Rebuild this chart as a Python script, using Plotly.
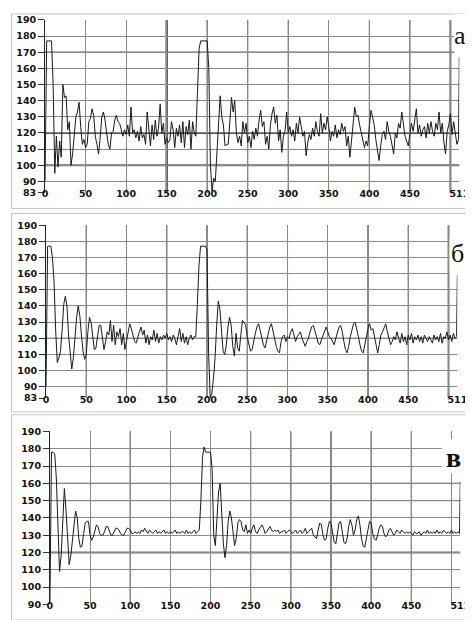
import plotly.graph_objects as go

# отсчёты (шаг 2) + последний отсчёт 511
x_idx = list(range(0, 512, 2)) + [511]

sig_a = [
    90, 177, 177, 177, 177, 150, 95, 118, 99, 115,
    105, 150, 142, 143, 122, 127, 100, 107, 120, 130,
    133, 139, 124, 113, 116, 111, 113, 127, 129, 135,
    131, 118, 113, 107, 117, 130, 133, 128, 120, 113,
    110, 120, 121, 128, 131, 127, 126, 121, 118, 122,
    119, 125, 118, 136, 120, 122, 117, 121, 115, 124,
    117, 119, 113, 133, 120, 112, 125, 116, 128, 118,
    123, 138, 120, 126, 113, 117, 114, 116, 127, 122,
    111, 123, 118, 125, 114, 127, 111, 124, 119, 128,
    110, 127, 120, 118, 145, 172, 177, 177, 177, 177,
    177, 160, 100, 84, 92, 90, 110, 130, 143, 130,
    125, 112, 113, 113, 125, 142, 133, 140, 120, 114,
    118, 112, 127, 120, 126, 114, 118, 111, 121, 116,
    123, 118, 128, 134, 124, 127, 113, 118, 110, 125,
    132, 136, 126, 131, 115, 122, 108, 118, 121, 133,
    120, 124, 118, 122, 115, 126, 120, 130, 124, 118,
    121, 106, 114, 119, 116, 123, 118, 127, 121, 118,
    132, 120, 126, 122, 130, 124, 115, 121, 118, 125,
    117, 122, 119, 126, 121, 124, 112, 118, 105, 117,
    128, 136, 130, 131, 125, 120, 116, 111, 115, 112,
    124, 134, 130, 125, 116, 110, 103, 112, 119, 121,
    116, 127, 121, 118, 112, 107, 120, 117, 126, 123,
    133, 125, 118, 115, 112, 119, 126, 121, 128, 135,
    120, 125, 118, 122, 124, 117, 126, 120, 127, 121,
    118, 126, 122, 133, 120, 126, 114, 107, 121, 125,
    132, 119, 127, 121, 113, 116,
    167,
]

sig_b = [
    90, 177, 177, 177, 170, 155, 125, 105, 108, 112,
    125, 141, 146, 140, 122, 110, 101, 108, 122, 133,
    140, 134, 122, 112, 107, 110, 124, 133, 130, 121,
    113, 114, 121, 128, 128, 120, 113, 118, 124, 122,
    131, 118, 128, 116, 124, 121, 126, 116, 123, 113,
    118, 124, 129, 126, 121, 118, 117, 121, 124, 127,
    122, 125, 117, 122, 116, 121, 119, 125, 118, 123,
    117, 121, 119, 122, 120, 123, 119, 121, 118, 122,
    120, 116, 122, 126, 118, 123, 117, 121, 116, 120,
    122, 119, 121, 121, 141, 165, 177, 177, 177, 177,
    175, 110, 83, 86, 95, 108, 128, 143, 138, 125,
    112, 110, 116, 127, 133, 128, 115, 109, 123, 114,
    112, 122, 131, 130, 128, 121, 116, 112, 113, 119,
    123, 127, 129, 125, 120, 116, 114, 118, 122, 127,
    129, 124, 120, 115, 112, 111, 118, 121, 122, 118,
    121, 120, 124, 126, 122, 118, 121, 123, 124, 120,
    117, 115, 118, 120, 124, 127, 128, 125, 121, 117,
    116, 119, 122, 125, 127, 124, 121, 120, 118, 116,
    120, 124, 127, 128, 124, 118, 113, 111, 115, 121,
    126, 129, 130, 126, 121, 116, 112, 111, 116, 122,
    126, 129, 125, 126, 121, 114, 111, 116, 122, 124,
    127, 129, 124, 119, 116, 118, 121, 119, 124, 120,
    117, 123, 118, 121, 116, 122, 119, 123, 117, 121,
    119, 122, 118, 121, 117, 122, 120, 118, 121, 119,
    117, 122, 119, 121, 118, 123, 117, 121, 120, 124,
    119, 122, 118, 123, 120, 121,
    159,
]

sig_c = [
    90, 178, 178, 177, 163, 133, 109, 118, 142, 157,
    145, 125, 113, 118, 128, 138, 144, 140, 128, 123,
    124, 131, 137, 138, 138, 130, 127, 129, 133, 136,
    135, 131, 130, 130, 132, 135, 135, 132, 130, 130,
    132, 134, 134, 133, 131, 130, 130, 132, 134, 134,
    133, 131, 131, 132, 131, 132, 131, 133, 132, 134,
    132, 131, 133, 132, 131, 132, 133, 131, 132, 131,
    132, 133, 131, 132, 131, 132, 131, 132, 133, 131,
    132, 131, 132, 132, 131, 133, 131, 132, 131, 132,
    133, 131, 132, 133, 150, 175, 181, 178, 178, 178,
    178, 168, 130, 124, 138, 155, 160, 142, 125, 117,
    124, 138, 144, 140, 130, 124, 128, 137, 139, 138,
    133, 132, 136, 131, 133, 131, 134, 136, 132, 131,
    133, 135, 136, 134, 131, 132, 134, 135, 133, 132,
    133, 132, 133, 131, 132, 132, 133, 131, 132, 133,
    132, 131, 132, 133, 131, 132, 133, 131, 132, 134,
    131, 132, 133, 134, 130, 129, 128, 133, 137, 136,
    130, 127, 128, 134, 138, 137, 130, 126, 125, 131,
    137, 138, 133, 126, 125, 128, 135, 139, 136, 130,
    133, 139, 141, 136, 128, 124, 123, 128, 135, 138,
    137, 131, 128, 127, 130, 134, 136, 135, 131, 129,
    130, 133, 134, 132, 130, 131, 133, 132, 131, 133,
    132, 131, 132, 131, 132, 131, 130, 132, 131, 131,
    132, 130, 131, 132, 131, 133, 131, 132, 131, 132,
    131, 133, 131, 132, 131, 133, 132, 131, 132, 131,
    133, 131, 132, 131, 132, 131,
    161,
]

x_ticks = [0, 50, 100, 150, 200, 250, 300, 350, 400, 450, 500, 511]
x_text = ["0", "50", "100", "150", "200", "250", "300", "350", "400", "450", "", "511"]
y_ticks_ab = [83, 90, 100, 110, 120, 130, 140, 150, 160, 170, 180, 190]
y_ticks_c = [90, 100, 110, 120, 130, 140, 150, 160, 170, 180, 190]
panel_names = ["а", "б", "в"]

W, H = 473, 620


def px_x(p):
    return p / W


def px_y(p):
    return 1 - p / H


# (x0, x1, y_top, y_bottom) в пикселях
panels = [
    (35, 461, 6, 182),
    (36, 459, 215, 391),
    (40, 462, 425, 601),
]
ranges = [[83, 190], [83, 190], [90, 190]]
ytick_sets = [y_ticks_ab, y_ticks_ab, y_ticks_c]
signals = [sig_a, sig_b, sig_c]

tick_font = dict(family="DejaVu Sans, Verdana", size=9.5, color="#111", weight="bold")

fig = go.Figure()
layout = {}
for i, (x0, x1, yt, yb) in enumerate(panels):
    n = "" if i == 0 else str(i + 1)
    fig.add_trace(go.Scatter(
        x=x_idx, y=signals[i], mode="lines",
        line=dict(color="#1a1a1a", width=1),
        xaxis="x" + n, yaxis="y" + n, showlegend=False,
    ))
    layout["xaxis" + n] = dict(
        domain=[px_x(x0), px_x(x1)], range=[0, 511], anchor="y" + n,
        tickvals=x_ticks, ticktext=x_text, tickfont=tick_font,
        showgrid=True, gridcolor="#8a8a8a", gridwidth=1,
        zeroline=False, showline=False, ticks="", ticklen=0,
        ticklabelstandoff=-6,
    )
    layout["yaxis" + n] = dict(
        domain=[px_y(yb), px_y(yt)], range=ranges[i], anchor="x" + n,
        tickvals=ytick_sets[i], tickfont=tick_font,
        showgrid=True, gridcolor="#8a8a8a", gridwidth=1,
        zeroline=False, showline=True, linecolor="#222", linewidth=1,
        ticks="outside", ticklen=6, tickcolor="#333",
    )

fig.update_layout(
    width=W, height=H, margin=dict(l=0, r=0, t=0, b=0),
    paper_bgcolor="white", plot_bgcolor="white", **layout,
)

# более тёмные линии сетки (как на скане)
dark_h = [
    (0, 170, "#000", 1), (0, 120, "#555", 2), (0, 100, "#666", 2),
    (1, 120, "#000", 1),
    (2, 160, "#000", 1), (2, 150, "#000", 1), (2, 120, "#777", 2),
]
dark_v = [
    (0, 150, "#111", 2), (0, 200, "#111", 1), (0, 250, "#333", 1), (0, 300, "#333", 1),
    (0, 400, "#333", 1), (0, 450, "#333", 1), (0, 500, "#666", 2),
    (1, 50, "#111", 1), (1, 100, "#111", 1), (1, 150, "#111", 1), (1, 200, "#111", 1),
    (1, 250, "#111", 1), (1, 300, "#111", 1), (1, 400, "#111", 1), (1, 450, "#111", 1),
    (1, 500, "#777", 2),
    (2, 100, "#111", 1), (2, 200, "#111", 1), (2, 250, "#111", 1), (2, 300, "#111", 1),
    (2, 350, "#111", 1), (2, 400, "#111", 1), (2, 450, "#222", 1), (2, 500, "#111", 1),
]
for p, v, c, w in dark_h:
    n = "" if p == 0 else str(p + 1)
    fig.add_shape(type="line", xref="x" + n + " domain", yref="y" + n,
                  x0=0, x1=1, y0=v, y1=v, line=dict(color=c, width=w), layer="below")
for p, v, c, w in dark_v:
    n = "" if p == 0 else str(p + 1)
    fig.add_shape(type="line", xref="x" + n, yref="y" + n + " domain",
                  x0=v, x1=v, y0=0, y1=1, line=dict(color=c, width=w), layer="below")

# рамки панелей
for (t, b) in [(0, 198), (203, 405), (408, 617)]:
    fig.add_shape(type="rect", xref="paper", yref="paper",
                  x0=px_x(0.5), x1=px_x(471.5), y0=px_y(b), y1=px_y(t),
                  line=dict(color="#c4c4c4", width=1), layer="below")

# подписи панелей на белом фоне
boxes = [(456, 472, 0, 43), (451, 470, 228, 265), (443, 470, 433, 468)]
label_pos = [(462, 22), (459, 244), (455, 452)]
label_size = [26, 26, 28]
for i, (bx0, bx1, by0, by1) in enumerate(boxes):
    fig.add_shape(type="rect", xref="paper", yref="paper",
                  x0=px_x(bx0), x1=px_x(bx1), y0=px_y(by1), y1=px_y(by0),
                  fillcolor="white", line=dict(width=0), layer="above")
    lx, ly = label_pos[i]
    fig.add_annotation(
        x=px_x(lx), y=px_y(ly), xref="paper", yref="paper",
        text=panel_names[i], showarrow=False,
        font=dict(family="Liberation Serif, Times New Roman", size=label_size[i], color="#111",
                  weight="bold" if i == 2 else "normal"),
        xanchor="center", yanchor="middle",
    )

fig.write_html("out.html")
